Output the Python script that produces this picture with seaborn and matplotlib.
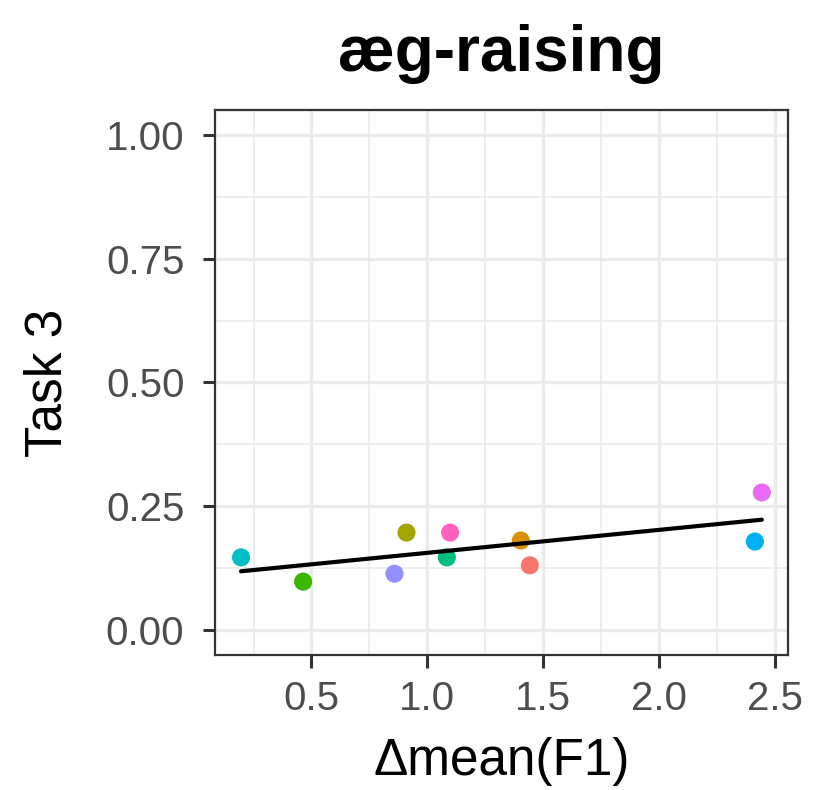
import numpy as np
import pandas as pd
import matplotlib
matplotlib.use("Agg")
import matplotlib.pyplot as plt
from matplotlib.ticker import MultipleLocator, FormatStrFormatter
import seaborn as sns

# values
groups = ["g1", "g2", "g3", "g4", "g5", "g6", "g7", "g8", "g9", "g10"]
delta_f1 = [1.442, 1.403, 0.910, 0.464, 1.084, 0.196, 2.413, 0.858, 2.443, 1.098]
task3 = [0.131, 0.181, 0.197, 0.098, 0.147, 0.147, 0.179, 0.114, 0.278, 0.197]
hue_colors = ["#F8766D", "#D89000", "#A3A500", "#39B600", "#00BF7D",
              "#00BFC4", "#00B0F6", "#9590FF", "#E76BF3", "#FF62BC"]

df = pd.DataFrame({"group": groups, "dF1": delta_f1, "task3": task3})

sns.set_theme(style="whitegrid")
plt.rcParams["font.family"] = ["Liberation Sans", "DejaVu Sans"]

fig = plt.figure(figsize=(8.25, 7.9), dpi=100)
ax = fig.add_axes([0.2606, 0.1709, 0.955 - 0.2606, 0.8608 - 0.1709])

sns.scatterplot(data=df, x="dF1", y="task3", hue="group", palette=hue_colors,
                s=170, linewidth=0, legend=False, ax=ax, zorder=3)
sns.regplot(data=df, x="dF1", y="task3", scatter=False, ci=None,
            color="black", line_kws={"lw": 3.0, "zorder": 4}, ax=ax)

# ggplot-style expansion
xmin, xmax = min(delta_f1), max(delta_f1)
xr = xmax - xmin
ax.set_xlim(xmin - 0.05 * xr, xmax + 0.05 * xr)
ax.set_ylim(-0.05, 1.05)

ax.xaxis.set_major_locator(MultipleLocator(0.5))
ax.xaxis.set_minor_locator(MultipleLocator(0.25))
ax.yaxis.set_major_locator(MultipleLocator(0.25))
ax.yaxis.set_minor_locator(MultipleLocator(0.125))
ax.xaxis.set_major_formatter(FormatStrFormatter("%.1f"))
ax.yaxis.set_major_formatter(FormatStrFormatter("%.2f"))

ax.set_facecolor("white")
ax.grid(which="major", color="#EBEBEB", lw=2.4)
ax.grid(which="minor", color="#EBEBEB", lw=1.2)
ax.set_axisbelow(True)
for sp in ax.spines.values():
    sp.set_visible(True)
    sp.set_color("#333333")
    sp.set_linewidth(1.6)

ax.tick_params(which="major", length=9, width=2.2, color="#333333",
               labelsize=29, labelcolor="#4D4D4D", left=True, bottom=True)
ax.tick_params(which="minor", length=0)
ax.tick_params(axis="y", pad=13)
ax.tick_params(axis="x", pad=9)

ax.set_xlabel("Δmean(F1)", fontsize=37, color="black", labelpad=14)
ax.set_ylabel("Task 3", fontsize=37, color="black", labelpad=24)
ax.set_title("æg-raising", fontsize=46, fontweight="bold", color="black", pad=28)

fig.savefig("out.png", dpi=100, facecolor="white")
